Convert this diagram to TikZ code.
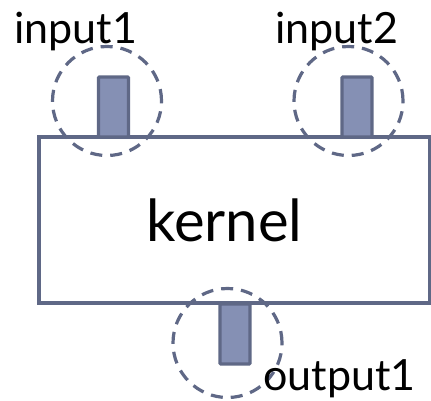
\documentclass[tikz,border=0pt]{standalone}
\usepackage{fontspec}
\setmainfont{Lato}
\definecolor{edge}{HTML}{5F6886}
\definecolor{portfill}{HTML}{8590B4}
\begin{document}
\begin{tikzpicture}[x=1pt,y=-1pt,
  port/.style={draw=edge,fill=portfill,line width=3.4pt,rounded corners=1pt,minimum width=30pt,minimum height=60pt,inner sep=0pt},
  zone/.style={circle,draw=edge,line width=3.2pt,dash pattern=on 12pt off 8pt,minimum size=109pt,inner sep=0pt},
  lbl/.style={font=\fontsize{43}{43}\selectfont,inner sep=0pt,anchor=base west}]
\useasboundingbox (0,0) rectangle (431,400);
\node[draw=edge,line width=3.2pt,minimum width=391pt,minimum height=166pt,inner sep=0pt] (box) at (234.5,220) {};
\node[font=\fontsize{58}{58}\selectfont,inner sep=0pt,anchor=base] (k) at (224.5,241) {kernel};
\node[port] (p1) at (113.5,107) {};
\node[port] (p2) at (357,107) {};
\node[port] (p3) at (235,334) {};
\node[zone] (c1) at (107,101) {};
\node[zone] (c2) at (348.5,101) {};
\node[zone] (c3) at (227.5,343) {};
\node[lbl] (l1) at (14,43) {input1};
\node[lbl] (l2) at (275,43) {input2};
\node[lbl] (l3) at (263,390) {output1};
\end{tikzpicture}
\end{document}
